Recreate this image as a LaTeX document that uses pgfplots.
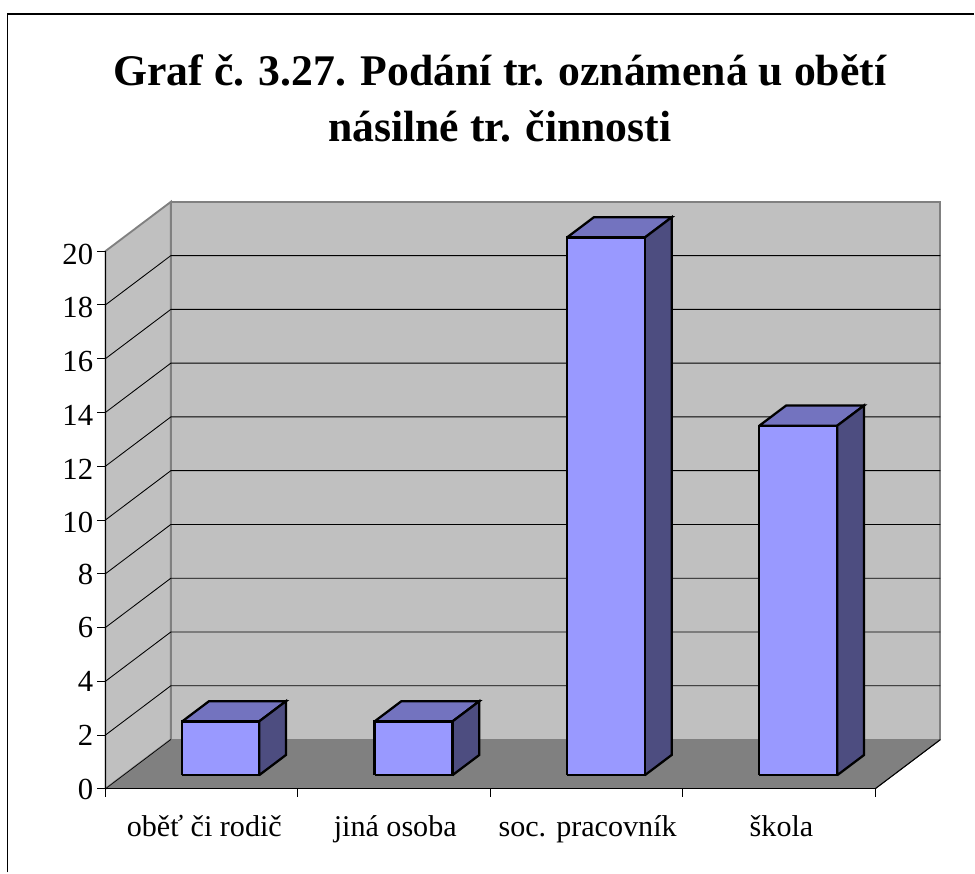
\documentclass[border=0pt]{standalone}
\usepackage{fontspec}
\setmainfont{Liberation Serif}
\usepackage{pgfplots}
\pgfplotsset{compat=1.18}
\definecolor{wall}{HTML}{C0C0C0}
\definecolor{floorc}{HTML}{808080}
\definecolor{barfront}{HTML}{9999FF}
\definecolor{bartop}{HTML}{7373BF}
\definecolor{barside}{HTML}{4D4D80}
% 3D bar: left x, right x, value (depth fixed)
\newcommand{\barthree}[3]{%
  \addplot3[fill=bartop,draw=black,line width=1.7pt,line join=miter] coordinates {(#1,0.276,#3) (#2,0.276,#3) (#2,0.686,#3) (#1,0.686,#3) (#1,0.276,#3)};
  \addplot3[fill=barside,draw=black,line width=1.7pt,line join=miter] coordinates {(#2,0.276,0) (#2,0.686,0) (#2,0.686,#3) (#2,0.276,#3) (#2,0.276,0)};
  \addplot3[fill=barfront,draw=black,line width=1.7pt,line join=miter] coordinates {(#1,0.276,0) (#2,0.276,0) (#2,0.276,#3) (#1,0.276,#3) (#1,0.276,0)};
}
\begin{document}
\begin{tikzpicture}
\begin{axis}[
    x={(144.375pt,0pt)},
    y={(49.1pt,37pt)},
    z={(0pt,20.175pt)},
    xmin=0, xmax=4,
    ymin=0, ymax=1,
    zmin=0, zmax=20,
    axis lines=left,
    axis line style={-,black,line width=0.9pt},
    clip=false,
    xtick={0.5,1.5,2.5,3.5},
    xticklabels={oběť či rodič,jiná osoba,soc. pracovník,škola},
    ytick=\empty,
    ztick={0,2,...,20},
    tick style={draw=none},
    /pgf/number format/assume math mode=true,
    ticklabel style={font=\fontsize{22.6}{24}\selectfont},
    xticklabel style={xshift=9.5pt,yshift=-15.2pt},
    zticklabel style={font=\fontsize{23}{24}\selectfont,xshift=-4pt,yshift=4.1pt},
    title={Graf č. 3.27. Podání tr. oznámená u obětí\\násilné tr. činnosti},
    title style={font=\bfseries\fontsize{32.8}{41.8}\selectfont,align=center,
      at={(axis cs:2.05,0,23.6)},anchor=south},
]
% walls and floor
\addplot3[fill=wall,draw=floorc,line width=1.4pt] coordinates {(0,0,0) (0,1,0) (0,1,20) (0,0,20) (0,0,0)};
\addplot3[fill=wall,draw=floorc,line width=1.4pt] coordinates {(0,1,0) (4,1,0) (4,1,20) (0,1,20) (0,1,0)};
\addplot3[fill=floorc,draw=none] coordinates {(0,0,0) (4,0,0) (4,1,0) (0,1,0) (0,0,0)};
\addplot3[black,line width=0.7pt] coordinates {(4,0,0) (4,1,0)};
\addplot3[black,line width=0.5pt] coordinates {(0,0,0) (0,1,0)};
% grid lines
\pgfplotsinvokeforeach{2,4,6,8,10,12,14,16,18}{
  \addplot3[black,line width=0.65pt] coordinates {(0,0,#1) (0,1,#1) (4,1,#1)};
}
\addplot3[black,line width=0.9pt] coordinates {(0,0,0) (0,0,20)};
\addplot3[black,line width=0.9pt] coordinates {(0,0,0) (4,0,0)};
% tick marks
\pgfplotsinvokeforeach{0,2,4,6,8,10,12,14,16,18,20}{
  \addplot3[black,line width=0.7pt] coordinates {(-0.042,0,#1) (0,0,#1)};
}
\pgfplotsinvokeforeach{0,1,2,3,4}{
  \addplot3[black,line width=0.7pt] coordinates {(#1,0,-0.3) (#1,0,0)};
}
% bars
\barthree{0.305}{0.705}{2}
\barthree{1.305}{1.71}{2}
\barthree{2.305}{2.71}{20}
\barthree{3.305}{3.71}{13}
\coordinate (o) at (axis cs:0,0,0);
\end{axis}
\begin{scope}[shift={(o)},x=0.75pt,y=0.75pt]
  \path (-105.5,-83.7) rectangle (869.5,789.3);
  \draw[black,line width=0.9pt] (-98.2,-83.7) -- (-98.2,775.2) -- (869.5,775.2);
\end{scope}
\end{tikzpicture}
\end{document}
